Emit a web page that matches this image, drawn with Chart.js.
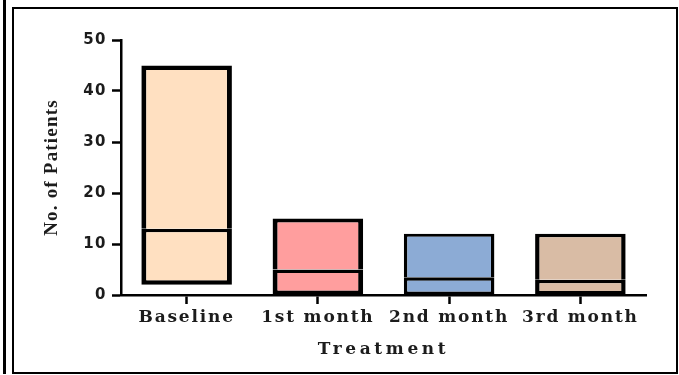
<!DOCTYPE html>
<html>
<head>
<meta charset="utf-8">
<script src="https://cdn.jsdelivr.net/npm/chart.js@4/dist/chart.umd.min.js"></script>
<style>
  html, body { margin: 0; padding: 0; background: #fff; }
  body { width: 679px; height: 375px; position: relative; overflow: hidden; }
  #edge { position: absolute; left: 3px; top: 0; width: 3px; height: 374px; background: #000; }
  #frame { position: absolute; left: 12px; top: 7px; width: 666px; height: 367px; box-sizing: border-box; border: 2px solid #000; }
  #chart { position: absolute; left: 0; top: 0; }
</style>
</head>
<body>
<div id="edge"></div>
<div id="frame"></div>
<canvas id="chart" width="679" height="375"></canvas>
<script>
// Patients per visit: range (min..max) with the median marked inside each bar
const categories = ['Baseline', '1st month', '2nd month', '3rd month'];
const minValues = [2, 0, 0, 0];
const medianValues = [13, 5, 3.5, 3];
const maxValues = [45, 15, 12, 12];
const yTicks = [0, 10, 20, 30, 40, 50];
const xTitle = 'Treatment';
const yTitle = 'No. of Patients';

const fillColors = ['#FFE0C1', '#FF9E9E', '#8CABD5', '#D9BCA5'];
const sideWidths = [5, 5, 3.5, 4.5];
const capWidths = [4.5, 4, 3, 3.5];
const medianWidth = 3.5;

const lowerBars = categories.map((_, i) => [minValues[i], medianValues[i]]);
const upperBars = categories.map((_, i) => [medianValues[i], maxValues[i]]);

// extra glyph spacing per scale part
const spacing = {
  x: { labels: '1.8px', title: '3.6px' },
  y: { labels: '1.5px', title: '1.2px' }
};

const spacingPlugin = {
  id: 'spacing',
  beforeDraw(chart) {
    const ctx = chart.ctx;
    for (const id of Object.keys(spacing)) {
      const scale = chart.scales[id];
      if (!scale || scale._spaced) continue;
      const s = spacing[id];
      const drawLabels = scale.drawLabels;
      const drawTitle = scale.drawTitle;
      scale.drawLabels = function (area) {
        ctx.save(); ctx.letterSpacing = s.labels; drawLabels.call(this, area); ctx.restore();
      };
      scale.drawTitle = function (area) {
        ctx.save(); ctx.letterSpacing = s.title; drawTitle.call(this, area); ctx.restore();
      };
      scale._spaced = true;
    }
  }
};

const barBase = {
  backgroundColor: fillColors,
  borderColor: '#000',
  borderSkipped: false,
  grouped: false,
  barPercentage: 0.69,
  categoryPercentage: 1
};

new Chart(document.getElementById('chart'), {
  type: 'bar',
  data: {
    labels: categories,
    datasets: [
      Object.assign({}, barBase, {
        label: 'upper',
        data: upperBars,
        borderWidth: (c) => ({
          left: sideWidths[c.dataIndex],
          right: sideWidths[c.dataIndex],
          top: capWidths[c.dataIndex],
          bottom: 0
        })
      }),
      Object.assign({}, barBase, {
        label: 'lower',
        data: lowerBars,
        borderWidth: (c) => ({
          left: sideWidths[c.dataIndex],
          right: sideWidths[c.dataIndex],
          bottom: capWidths[c.dataIndex],
          top: medianWidth
        })
      })
    ]
  },
  options: {
    responsive: false,
    animation: false,
    events: [],
    layout: { padding: { left: 37, right: 33, top: 40, bottom: 11 } },
    plugins: { legend: { display: false }, tooltip: { enabled: false } },
    scales: {
      x: {
        afterFit: (s) => { s.height = 69; },
        border: { display: true, color: '#000', width: 2.5 },
        grid: { display: true, offset: false, drawOnChartArea: false, drawTicks: true, tickLength: 9, tickWidth: 2.5, tickColor: '#000' },
        ticks: { color: '#1c1c1c', padding: 3, font: { family: 'DejaVu Serif', size: 17, weight: 'bold' } },
        title: { display: true, text: xTitle, color: '#1c1c1c', padding: { top: 4, bottom: 4 }, font: { family: 'DejaVu Serif', size: 17, weight: 'bold' } }
      },
      y: {
        min: 0,
        max: 50,
        afterFit: (s) => { s.width = 84; },
        afterBuildTicks: (s) => { s.ticks = yTicks.map((v) => ({ value: v })); },
        border: { display: true, color: '#000', width: 2.5 },
        grid: { display: true, drawOnChartArea: false, drawTicks: true, tickLength: 9, tickWidth: 2.5, tickColor: '#000' },
        ticks: { color: '#1c1c1c', padding: 5, font: { family: 'DejaVu Sans', size: 15, weight: 'bold' } },
        title: { display: true, text: yTitle, color: '#1c1c1c', padding: { top: 4, bottom: 4 }, font: { family: 'Liberation Serif', size: 19, weight: 'bold' } }
      }
    }
  },
  plugins: [spacingPlugin]
});
</script>
</body>
</html>
